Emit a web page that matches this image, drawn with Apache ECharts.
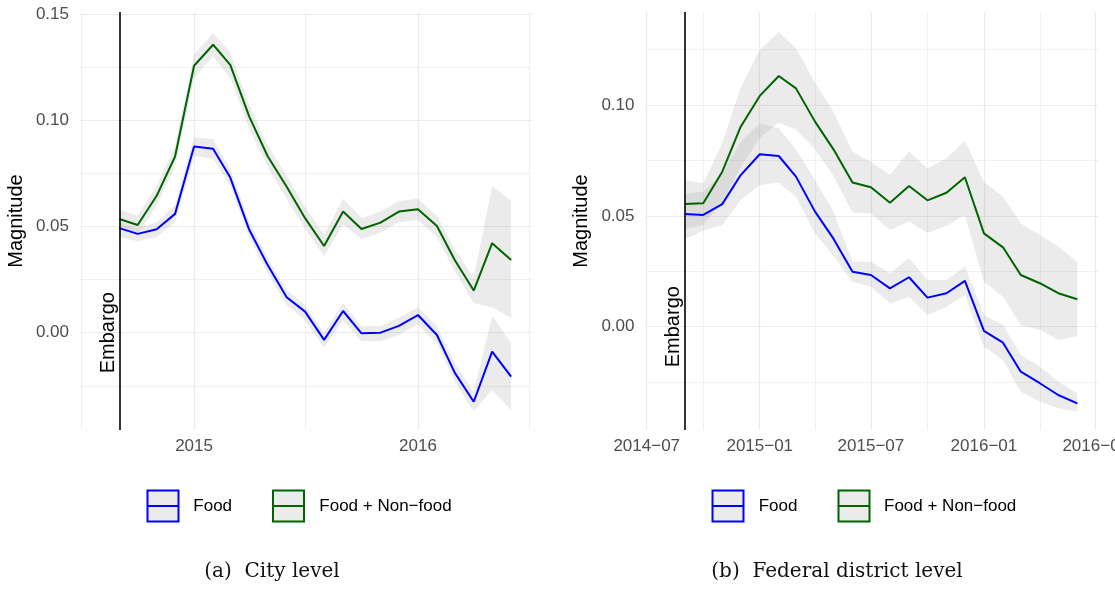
<!DOCTYPE html>
<html>
<head>
<meta charset="utf-8">
<script src="https://cdn.jsdelivr.net/npm/echarts@6/dist/echarts.min.js"></script>
<style>
  html, body { margin: 0; padding: 0; background: #fff; }
  #chart { width: 1115px; height: 590px; }
</style>
</head>
<body>
<div id="chart"></div>
<script>
// Monthly observations, Sep 2014 – Jun 2016
const months = [
  '2014-09-01', '2014-10-01', '2014-11-01', '2014-12-01',
  '2015-01-01', '2015-02-01', '2015-03-01', '2015-04-01', '2015-05-01', '2015-06-01',
  '2015-07-01', '2015-08-01', '2015-09-01', '2015-10-01', '2015-11-01', '2015-12-01',
  '2016-01-01', '2016-02-01', '2016-03-01', '2016-04-01', '2016-05-01', '2016-06-01'
];
const embargoDate = '2014-09-01';

// (a) City level
const cityFood = [0.0492, 0.0465, 0.0487, 0.0559, 0.0876, 0.0865, 0.0730, 0.0484, 0.0318, 0.0167, 0.0099, -0.0034,
  0.0102, -0.0003, 0.0000, 0.0032, 0.0083, -0.0011, -0.0188, -0.0325, -0.0089, -0.0207];
const cityFoodLo = [0.045, 0.043, 0.045, 0.052, 0.083, 0.082, 0.069, 0.045, 0.028, 0.013, 0.006, -0.007,
  0.006, -0.004, -0.004, -0.001, 0.004, -0.005, -0.023, -0.037, -0.027, -0.0365];
const cityFoodHi = [0.052, 0.049, 0.052, 0.060, 0.092, 0.091, 0.077, 0.052, 0.035, 0.020, 0.013, 0.000,
  0.014, 0.003, 0.003, 0.007, 0.012, 0.003, -0.0145, -0.028, 0.008, -0.005];
const cityAll = [0.0535, 0.0507, 0.0644, 0.0829, 0.1256, 0.1355, 0.1260, 0.1017, 0.0830, 0.0687, 0.0539, 0.0408,
  0.0570, 0.0488, 0.0518, 0.0570, 0.0581, 0.0502, 0.0342, 0.0198, 0.0421, 0.0342];
const cityAllLo = [0.049, 0.046, 0.060, 0.078, 0.120, 0.130, 0.120, 0.096, 0.078, 0.063, 0.049, 0.036,
  0.051, 0.044, 0.047, 0.052, 0.053, 0.045, 0.029, 0.014, 0.012, 0.007];
const cityAllHi = [0.058, 0.055, 0.069, 0.088, 0.131, 0.141, 0.132, 0.107, 0.088, 0.074, 0.059, 0.046,
  0.063, 0.054, 0.057, 0.062, 0.063, 0.055, 0.039, 0.026, 0.069, 0.062];

// (b) Federal district level
const fedFood = [0.0508, 0.0504, 0.0553, 0.0684, 0.0778, 0.0770, 0.0677, 0.0519, 0.0397, 0.0248, 0.0233, 0.0173,
  0.0223, 0.0131, 0.0151, 0.0207, -0.0019, -0.0072, -0.0203, -0.0255, -0.0308, -0.0346];
const fedFoodLo = [0.0394, 0.0433, 0.0459, 0.0571, 0.0639, 0.0650, 0.0586, 0.0420, 0.0320, 0.0203, 0.0180, 0.0106,
  0.0135, 0.0053, 0.0090, 0.0143, -0.0090, -0.0150, -0.0293, -0.0338, -0.0368, -0.0383];
const fedFoodHi = [0.0600, 0.0609, 0.0690, 0.0835, 0.0917, 0.0895, 0.0800, 0.0660, 0.0520, 0.0293, 0.0293, 0.0241,
  0.0309, 0.0211, 0.0211, 0.0271, 0.0053, 0.0008, -0.0128, -0.0180, -0.0248, -0.0300];
const fedAll = [0.0553, 0.0557, 0.0699, 0.0902, 0.1041, 0.1131, 0.1075, 0.0925, 0.0800, 0.0650, 0.0629, 0.0559,
  0.0635, 0.0570, 0.0604, 0.0674, 0.0421, 0.0358, 0.0233, 0.0196, 0.0151, 0.0124];
const fedAllLo = [0.0440, 0.0460, 0.0560, 0.0720, 0.0850, 0.0920, 0.0890, 0.0800, 0.0680, 0.0514, 0.0511, 0.0436,
  0.0474, 0.0424, 0.0454, 0.0504, 0.0203, 0.0135, 0.0008, -0.0015, -0.0060, -0.0042];
const fedAllHi = [0.0660, 0.0647, 0.0827, 0.1080, 0.1248, 0.1328, 0.1256, 0.1100, 0.0970, 0.0790, 0.0744, 0.0684,
  0.0790, 0.0714, 0.0760, 0.0839, 0.0654, 0.0586, 0.0466, 0.0414, 0.0361, 0.0293];

// Axis breaks
const cityMajorX = ['2015-01-01', '2016-01-01'];
const cityMinorX = ['2014-07-01', '2015-07-01', '2016-07-01'];
const fedMajorX = ['2014-07-01', '2015-01-01', '2015-07-01', '2016-01-01', '2016-07-01'];
const fedMinorX = ['2014-10-01', '2015-04-01', '2015-10-01', '2016-04-01'];
const cityMajorY = [0.00, 0.05, 0.10, 0.15];
const fedMajorY = [0.00, 0.05, 0.10];
const minorY = [-0.025, 0.025, 0.075, 0.125];

const seriesNames = ['Food', 'Food + Non\u2212food'];
const seriesColors = ['#0000ff', '#006400'];
const captions = ['(a)  City level', '(b)  Federal district level'];

const t = (s) => Date.parse(s);
const ts = months.map(t);
const X_MIN = t('2014-06-29');
const X_MAX = t('2016-07-05');

const SANS = '"Liberation Sans", Arial, Helvetica, sans-serif';
const SERIF = '"DejaVu Serif", "Liberation Serif", serif';
const MAJOR_GRID = { color: '#ebebeb', width: 1.2 };
const MINOR_GRID = { color: '#f1f1f1', width: 1 };
const BAND_FILL = 'rgba(153,153,153,0.2)';

const grids = [
  { left: 80, top: 12, width: 452, height: 418, outerBoundsMode: 'none', containLabel: false },
  { left: 645.5, top: 12, width: 452.7, height: 418, outerBoundsMode: 'none', containLabel: false }
];
const yRanges = [[-0.0458, 0.1509], [-0.0466, 0.14195]];

function fmtMonth(v) {
  const d = new Date(v);
  const m = d.getUTCMonth() + 1;
  return d.getUTCFullYear() + '\u2212' + (m < 10 ? '0' + m : m);
}

function xAxes(gi, major, minor, formatter) {
  return [
    {
      type: 'value', gridIndex: gi, min: X_MIN, max: X_MAX,
      axisLine: { show: false },
      axisTick: { show: false, customValues: major.map(t) },
      axisLabel: {
        customValues: major.map(t), formatter: formatter,
        color: '#4d4d4d', fontSize: 17, fontFamily: SANS, margin: 8
      },
      splitLine: { show: true, lineStyle: MAJOR_GRID }
    },
    {
      type: 'value', gridIndex: gi, min: X_MIN, max: X_MAX,
      axisLine: { show: false },
      axisTick: { show: false, customValues: minor.map(t) },
      axisLabel: { show: false },
      splitLine: { show: true, lineStyle: MINOR_GRID }
    }
  ];
}

function yAxes(gi, major) {
  const r = yRanges[gi];
  return [
    {
      type: 'value', gridIndex: gi, min: r[0], max: r[1],
      name: 'Magnitude', nameLocation: 'middle', nameGap: 54, nameRotate: 90,
      nameTextStyle: { color: '#000', fontSize: 20, fontFamily: SANS },
      axisLine: { show: false },
      axisTick: { show: false, customValues: major },
      axisLabel: {
        customValues: major, formatter: (v) => v.toFixed(2),
        color: '#4d4d4d', fontSize: 17, fontFamily: SANS, margin: 11
      },
      splitLine: { show: true, lineStyle: MAJOR_GRID }
    },
    {
      type: 'value', gridIndex: gi, min: r[0], max: r[1],
      axisLine: { show: false },
      axisTick: { show: false, customValues: minorY },
      axisLabel: { show: false },
      splitLine: { show: true, lineStyle: MINOR_GRID }
    }
  ];
}

// Confidence ribbon drawn as one polygon through the axis scales
function band(gi, lo, hi) {
  return {
    type: 'custom', xAxisIndex: gi * 2, yAxisIndex: gi * 2, silent: true, z: 1,
    data: ts.map((x, i) => [x, lo[i], hi[i]]),
    encode: { x: 0, y: [1, 2] },
    renderItem: function (params, api) {
      if (params.dataIndex !== 0) return null;
      const upper = ts.map((x, i) => api.coord([x, hi[i]]));
      const lower = ts.map((x, i) => api.coord([x, lo[i]])).reverse();
      return { type: 'polygon', shape: { points: upper.concat(lower) }, style: { fill: BAND_FILL } };
    }
  };
}

function line(gi, name, values, color, withEmbargo) {
  const s = {
    type: 'line', name: name, xAxisIndex: gi * 2, yAxisIndex: gi * 2, z: 3,
    data: ts.map((x, i) => [x, values[i]]),
    showSymbol: false, symbol: 'none', silent: true,
    lineStyle: { color: color, width: 2 }
  };
  if (withEmbargo) {
    s.markLine = {
      silent: true, symbol: 'none', label: { show: false },
      lineStyle: { color: '#000', width: 1.6, type: 'solid' },
      data: [{ xAxis: t(embargoDate) }]
    };
  }
  return s;
}

const chart = echarts.init(document.getElementById('chart'), null, { renderer: 'canvas' });

const option = {
  animation: false,
  backgroundColor: '#ffffff',
  grid: grids,
  xAxis: xAxes(0, cityMajorX, cityMinorX, (v) => String(new Date(v).getUTCFullYear()))
    .concat(xAxes(1, fedMajorX, fedMinorX, fmtMonth)),
  yAxis: yAxes(0, cityMajorY).concat(yAxes(1, fedMajorY)),
  series: [
    band(0, cityFoodLo, cityFoodHi),
    band(0, cityAllLo, cityAllHi),
    line(0, seriesNames[0], cityFood, seriesColors[0], true),
    line(0, seriesNames[1], cityAll, seriesColors[1], false),
    band(1, fedFoodLo, fedFoodHi),
    band(1, fedAllLo, fedAllHi),
    line(1, seriesNames[0], fedFood, seriesColors[0], true),
    line(1, seriesNames[1], fedAll, seriesColors[1], false)
  ]
};
chart.setOption(option);

// Annotations, legends and captions placed from the axis scales
function legendGroup(boxXs, textXs, y) {
  const els = [];
  for (let k = 0; k < 2; k++) {
    els.push({
      type: 'rect', shape: { x: boxXs[k], y: y - 15.5, width: 31, height: 31 },
      style: { fill: '#ebebeb', stroke: seriesColors[k], lineWidth: 2 }
    });
    els.push({
      type: 'line', shape: { x1: boxXs[k], y1: y, x2: boxXs[k] + 31, y2: y },
      style: { stroke: seriesColors[k], lineWidth: 2 }
    });
    els.push({
      type: 'text', x: textXs[k], y: y,
      style: { text: seriesNames[k], fill: '#000', fontSize: 17, fontFamily: SANS,
        textAlign: 'left', textVerticalAlign: 'middle' }
    });
  }
  return els;
}

const graphics = [];
[0, 1].forEach(function (gi) {
  const p = chart.convertToPixel({ xAxisIndex: gi * 2, yAxisIndex: gi * 2 }, [t(embargoDate), 0]);
  graphics.push({
    type: 'text', x: p[0] - 1, y: p[1], rotation: Math.PI / 2,
    style: { text: 'Embargo', fill: '#000', fontSize: 20, fontFamily: SANS,
      textAlign: 'center', textVerticalAlign: 'bottom' }
  });
  graphics.push({
    type: 'text', x: gi === 0 ? 272 : 837, y: 572,
    style: { text: captions[gi], fill: '#111', fontSize: 20, fontFamily: SERIF,
      textAlign: 'center', textVerticalAlign: 'middle' }
  });
});
graphics.push.apply(graphics, legendGroup([147.5, 273], [193.3, 319.3], 506));
graphics.push.apply(graphics, legendGroup([712.5, 838.5], [758.7, 884], 506));

chart.setOption({ graphic: { elements: graphics } });
</script>
</body>
</html>
